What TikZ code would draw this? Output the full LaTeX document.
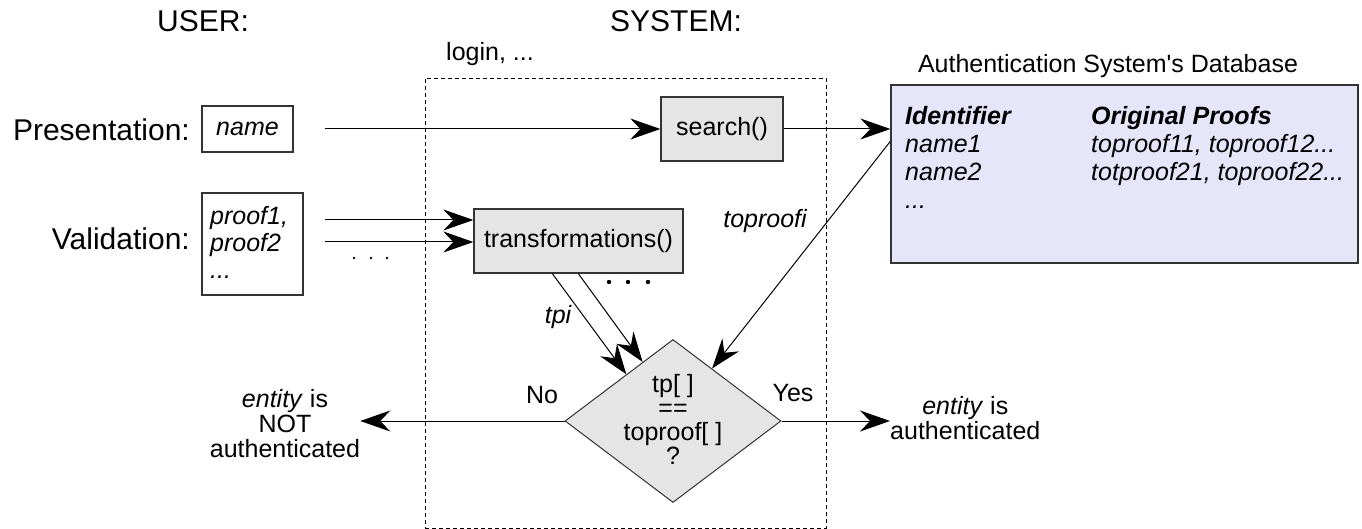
\documentclass[tikz,border=0pt]{standalone}
\usepackage{fontspec}
\setmainfont{Liberation Sans}
\usetikzlibrary{shapes.geometric,arrows.meta,calc}
\definecolor{boxgray}{HTML}{E5E5E5}
\definecolor{dbfill}{HTML}{E6E6FA}
\definecolor{edgegray}{HTML}{333333}
\begin{document}
\begin{tikzpicture}[x=1pt,y=-1pt,
  heading/.style={font=\fontsize{30}{36}\selectfont, inner sep=0, anchor=base},
  txt/.style={font=\fontsize{25}{25}\selectfont, inner sep=0},
  itxt/.style={font=\fontsize{25}{25}\selectfont\itshape, inner sep=0},
  userbox/.style={draw=edgegray, line width=1.3pt, fill=white, inner sep=0},
  procbox/.style={draw=edgegray, line width=1.3pt, fill=boxgray, inner sep=0,
                  font=\fontsize{25}{27}\selectfont},
  decision/.style={diamond, draw=edgegray, line width=1pt, fill=boxgray, inner sep=0},
  conn/.style={line width=1pt, -{Stealth[length=30pt,width=21pt,inset=10pt]}},
  sysframe/.style={draw, dash pattern=on 4pt off 3pt, line width=0.9pt, inner sep=0}
]
\useasboundingbox (0,0) rectangle (1362,529);

% system boundary
\node[sysframe, minimum width=401pt, minimum height=450pt] (system) at (625.5,303) {};

% column headings
\node[heading] (user) at (203,32) {USER:};
\node[heading] (sys) at (676,32) {SYSTEM:};
\node[txt, anchor=base] (login) at (490,61) {login, ...};

% user side
\node[heading, anchor=base east] (pres) at (190,141) {Presentation:};
\node[userbox, minimum width=91pt, minimum height=46pt, itxt] (namebox) at (247.5,129) {name};
\node[heading, anchor=base east] (valid) at (190,250) {Validation:};
\node[userbox, minimum width=101pt, minimum height=102pt] (proofs) at (252.5,244) {};
\node[itxt, font=\fontsize{25}{27}\selectfont\itshape, anchor=north west, align=left]
  (prooftext) at (210,206) {proof1,\\proof2\\...};
\foreach \xx in {354,371,387} \fill (\xx,258) circle (1.3);

% system processes
\node[procbox, minimum width=122pt, minimum height=64pt] (search) at (722,129) {search()};
\node[procbox, minimum width=209pt, minimum height=64pt] (trans) at (578.5,241) {transformations()};
\foreach \xx in {609,628,648} \fill (\xx,282) circle (2.2);
\node[decision, minimum width=216pt, minimum height=163pt] (dec) at (673,421) {};
\node[txt, font=\fontsize{25}{24}\selectfont, align=center] (dectext) at (673,419)
  {tp[ ]\\==\\toproof[ ]\\?};

% database
\node[draw=edgegray, line width=1.3pt, fill=dbfill, minimum width=467pt,
      minimum height=178pt, inner sep=0] (db) at (1124.5,174) {};
\node[txt, anchor=base] (dbtitle) at (1108,73) {Authentication System\textquotesingle s Database};
\node[itxt, font=\fontsize{25}{28}\selectfont\itshape, anchor=north west, align=left]
  (dbcol1) at (905,106) {\textbf{Identifier}\\name1\\name2\\...};
\node[itxt, font=\fontsize{25}{28}\selectfont\itshape, anchor=north west, align=left]
  (dbcol2) at (1091,106) {\textbf{Original Proofs}\\toproof11, toproof12...\\totproof21, toproof22...};

% outcomes
\node[txt, align=center] (authno) at (285,423.5) {\textit{entity} is\\NOT\\authenticated};
\node[txt, align=center, anchor=west] (authyes) at (890,418) {\textit{entity} is\\authenticated};

% connectors
\draw[conn, shorten <=31pt] (namebox.east) -- (namebox.east -| search.west);
\draw[conn] (search.east) -- (search.east -| db.west);
\draw[conn, shorten <=21pt] ([yshift=24pt]proofs.east) -- ([yshift=24pt]proofs.east -| trans.west);
\draw[conn, shorten <=21pt] ([yshift=2pt]proofs.east) -- ([yshift=2pt]proofs.east -| trans.west);
\draw[conn] ([xshift=79pt]trans.south west) -- ($(dec.west)!0.57!(dec.north)$);
\draw[conn] ([xshift=105pt]trans.south west) -- ($(dec.west)!0.72!(dec.north)$);
\draw[conn] ([yshift=-57pt]db.north west) -- ($(dec.north)!0.36!(dec.east)$);
\draw[conn] (dec.west) -- (dec.west -| authno.east);
\draw[conn] (dec.east) -- (dec.east -| authyes.west);

% connector labels
\node[itxt, anchor=base] (tpi) at (558,323) {tpi};
\node[itxt, anchor=base] (toproofi) at (765,228) {toproofi};
\node[txt, anchor=base] (no) at (542,403) {No};
\node[txt, anchor=base] (yes) at (793,401) {Yes};
\end{tikzpicture}
\end{document}
